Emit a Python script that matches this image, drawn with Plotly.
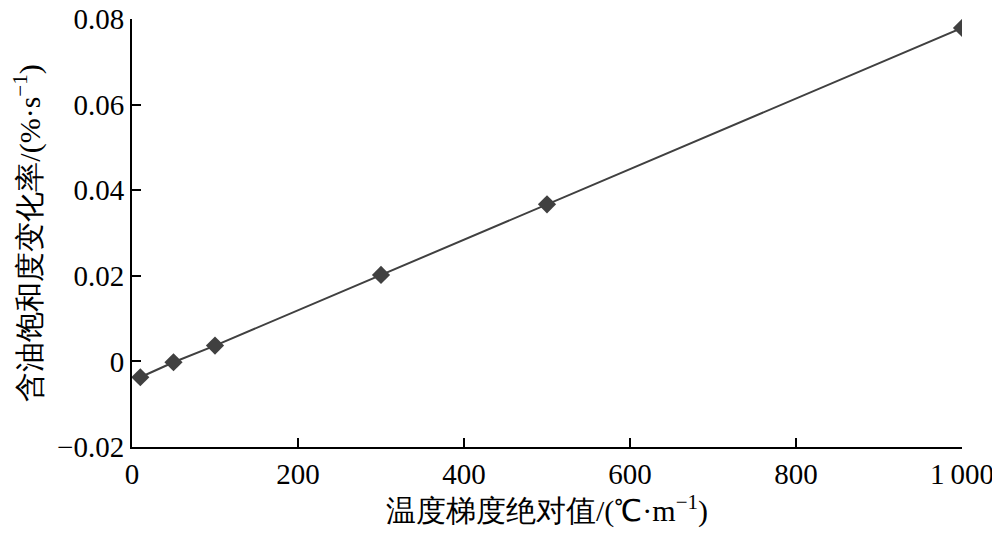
import plotly.graph_objects as go

gradient = [10, 50, 100, 300, 500, 1000]
rate = [-0.0037, -0.0002, 0.0037, 0.0202, 0.0367, 0.0779]

x_tickvals = [0, 200, 400, 600, 800, 1000]
x_ticktext = ["0", "200", "400", "600", "800", "1\u2009000"]
y_tickvals = [-0.02, 0, 0.02, 0.04, 0.06, 0.08]
y_ticktext = ["\u22120.02", "0", "0.02", "0.04", "0.06", "0.08"]

x_title = "温度梯度绝对值/(℃·m<sup>−1</sup>)"
y_title = "含油饱和度变化率/(%·s<sup>−1</sup>)"

serif = "Liberation Serif"
col = "#404040"

fig = go.Figure()
fig.add_trace(go.Scatter(
    x=gradient, y=rate, mode="lines+markers",
    line=dict(color=col, width=2),
    marker=dict(symbol="diamond", size=14, color=col),
    showlegend=False,
))

fig.update_layout(
    width=992, height=526,
    margin=dict(l=124, r=38, t=11, b=87),
    plot_bgcolor="white", paper_bgcolor="white",
    font=dict(family=serif, size=29, color="black"),
)
fig.update_xaxes(
    range=[0, 1000], tickvals=x_tickvals, ticktext=x_ticktext,
    ticks="inside", ticklen=9, tickwidth=2, tickcolor="black",
    showline=True, linecolor="black", linewidth=2, showgrid=False, zeroline=False,
    automargin=False, ticklabeloverflow="allow",
    title=dict(text=x_title, font=dict(size=30, family=serif), standoff=6),
)
fig.update_yaxes(
    range=[-0.02, 0.08], tickvals=y_tickvals, ticktext=y_ticktext,
    ticks="inside", ticklen=9, tickwidth=2, tickcolor="black",
    showline=True, linecolor="black", linewidth=2, showgrid=False, zeroline=False,
    automargin=False, ticklabeloverflow="allow",
    title=dict(text=y_title, font=dict(size=30, family=serif), standoff=9),
)

fig.write_html("out.html")
